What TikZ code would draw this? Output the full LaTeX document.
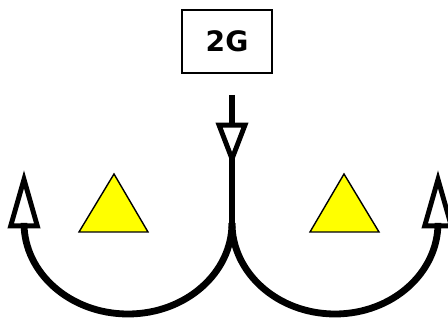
\documentclass[tikz,border=0pt]{standalone}
\usepackage{fontspec}
\setsansfont{DejaVu Sans}
\usepackage{tikz}
\usetikzlibrary{arrows.meta, positioning, calc}
\definecolor{wedgeyellow}{RGB}{255,255,0}

\begin{document}
\begin{tikzpicture}[
        x=0.03cm, y=0.03cm,
        gbox/.style={rectangle, draw=black, line width=1.2pt, minimum width=2.7cm, minimum height=1.89cm, font=\sffamily\bfseries\fontsize{24}{28}\selectfont},
        heavy/.style={line width=5.8pt, black},
        opentip/.style={-{Triangle[open, length=1.3cm, width=0.95cm, line width=4.2pt]}},
        longtip/.style={-{Triangle[open, length=1.75cm, width=0.95cm, line width=4.2pt]}},
        wedge/.style={fill=wedgeyellow, draw=black, line width=1.2pt, line join=miter}
    ]
        \useasboundingbox (0,0) rectangle (448,320);

        % Box and fixed points
        \node[gbox] (gen) at (227,278.5) {2G\hspace{8pt}};
        \coordinate (feed)  at (232,225);
        \coordinate (head)  at (232,154);
        \coordinate (join)  at (232,97);
        \coordinate (lend)  at (24,97);
        \coordinate (ltip)  at (24,150);
        \coordinate (rend)  at (438,97);
        \coordinate (rtip)  at (438,150);

        % Yellow triangles
        \draw[wedge] (114,146) -- (148,88) -- (79,88) -- cycle;
        \draw[wedge] (344,146) -- (379,88) -- (310,88) -- cycle;

        % Arrows
        \draw[heavy, opentip] (feed) -- (head);
        \draw[heavy] ($(head)+(0,8)$) -- (join);
        \draw[heavy, longtip] (join) arc[start angle=0, end angle=-180, x radius=104, y radius=91] -- (ltip);
        \draw[heavy, longtip] (join) arc[start angle=180, end angle=360, x radius=103, y radius=91] -- (rtip);
    \end{tikzpicture}
\end{document}
